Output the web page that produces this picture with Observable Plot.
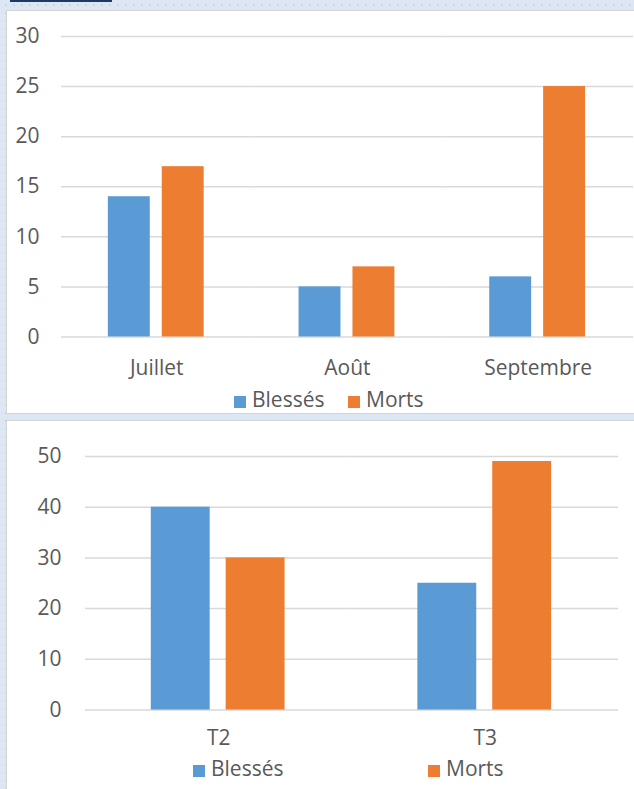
<!DOCTYPE html>
<html><head><meta charset="utf-8">
<script src="https://cdn.jsdelivr.net/npm/d3@7"></script>
<script src="https://cdn.jsdelivr.net/npm/@observablehq/plot@0.6"></script>
<style>
html,body{margin:0;padding:0;}
body{width:634px;height:789px;position:relative;overflow:hidden;background-color:#dde7f3;
background-image:radial-gradient(circle,#c8d7e8 1px,transparent 1.3px);background-size:8px 8px;background-position:2px 1px;
font-family:"Open Sans",sans-serif;color:#595959;}
.panel{position:absolute;background:#fff;border:1px solid #d4d4d4;box-sizing:border-box;}
.leg{position:absolute;font-size:21px;line-height:21px;white-space:nowrap;}
.sw{display:inline-block;width:12px;height:12px;margin-right:6px;vertical-align:-1px;}
</style></head><body>
<div style="position:absolute;left:10px;top:0;width:102px;height:2px;background:#1f3a60"></div>
<div id="p1" class="panel" style="left:6px;top:10px;width:629px;height:404px;"></div>
<div id="p2" class="panel" style="left:6px;top:420px;width:629px;height:370px;"></div>
<script>
const months = ["Juillet", "Août", "Septembre"];
const series = ["Blessés", "Morts"];
const blessesMonth = [14, 5, 6];
const mortsMonth = [17, 7, 25];
const quarters = ["T2", "T3"];
const blessesQ = [40, 25];
const mortsQ = [30, 49];
const ticksTop = [0, 5, 10, 15, 20, 25, 30];
const ticksBottom = [0, 10, 20, 30, 40, 50];
const colors = ["#5b9bd5", "#ed7d31"];

function rows(cats, a, b) {
  const r = [];
  cats.forEach((c, i) => { r.push({cat: c, s: series[0], v: a[i]}); r.push({cat: c, s: series[1], v: b[i]}); });
  return r;
}
const style = {fontFamily: "'Open Sans', sans-serif", fontSize: "21px", color: "#595959", background: "transparent", overflow: "visible"};

const c1 = Plot.plot({
  width: 628, height: 372, marginTop: 25, marginBottom: 46, marginLeft: 53, marginRight: 0,
  style,
  fx: {domain: months, padding: 0, label: null, axis: "bottom", tickSize: 0, tickPadding: 23},
  x: {domain: series, paddingInner: 0.22, paddingOuter: 0.855, axis: null},
  y: {domain: [0, 30], ticks: ticksTop, label: null, tickSize: 0, tickPadding: 22},
  color: {domain: series, range: colors},
  marks: [
    Plot.gridY(ticksTop, {stroke: "#d9d9d9", strokeOpacity: 1, strokeWidth: 1.5}),
    Plot.barY(rows(months, blessesMonth, mortsMonth), {fx: "cat", x: "s", y: "v", fill: "s"})
  ]
});
document.getElementById("p1").appendChild(c1);

const c2 = Plot.plot({
  width: 628, height: 340, marginTop: 35, marginBottom: 51, marginLeft: 77, marginRight: 16,
  style,
  fx: {domain: quarters, padding: 0, label: null, axis: "bottom", tickSize: 0, tickPadding: 20},
  x: {domain: series, paddingInner: 0.21, paddingOuter: 0.865, axis: null},
  y: {domain: [0, 50], ticks: ticksBottom, label: null, tickSize: 0, tickPadding: 24},
  color: {domain: series, range: colors},
  marks: [
    Plot.gridY(ticksBottom, {stroke: "#d9d9d9", strokeOpacity: 1, strokeWidth: 1.5}),
    Plot.barY(rows(quarters, blessesQ, mortsQ), {fx: "cat", x: "s", y: "v", fill: "s"})
  ]
});
document.getElementById("p2").appendChild(c2);

function leg(parent, x, y, i) {
  const d = document.createElement("div");
  d.className = "leg";
  d.style.left = x + "px"; d.style.top = y + "px";
  d.innerHTML = `<span class="sw" style="background:${colors[i]}"></span>${series[i]}`;
  document.getElementById(parent).appendChild(d);
}
leg("p1", 227, 378, 0);
leg("p1", 341, 378, 1);
leg("p2", 186, 337, 0);
leg("p2", 421, 337, 1);
</script>
</body></html>
